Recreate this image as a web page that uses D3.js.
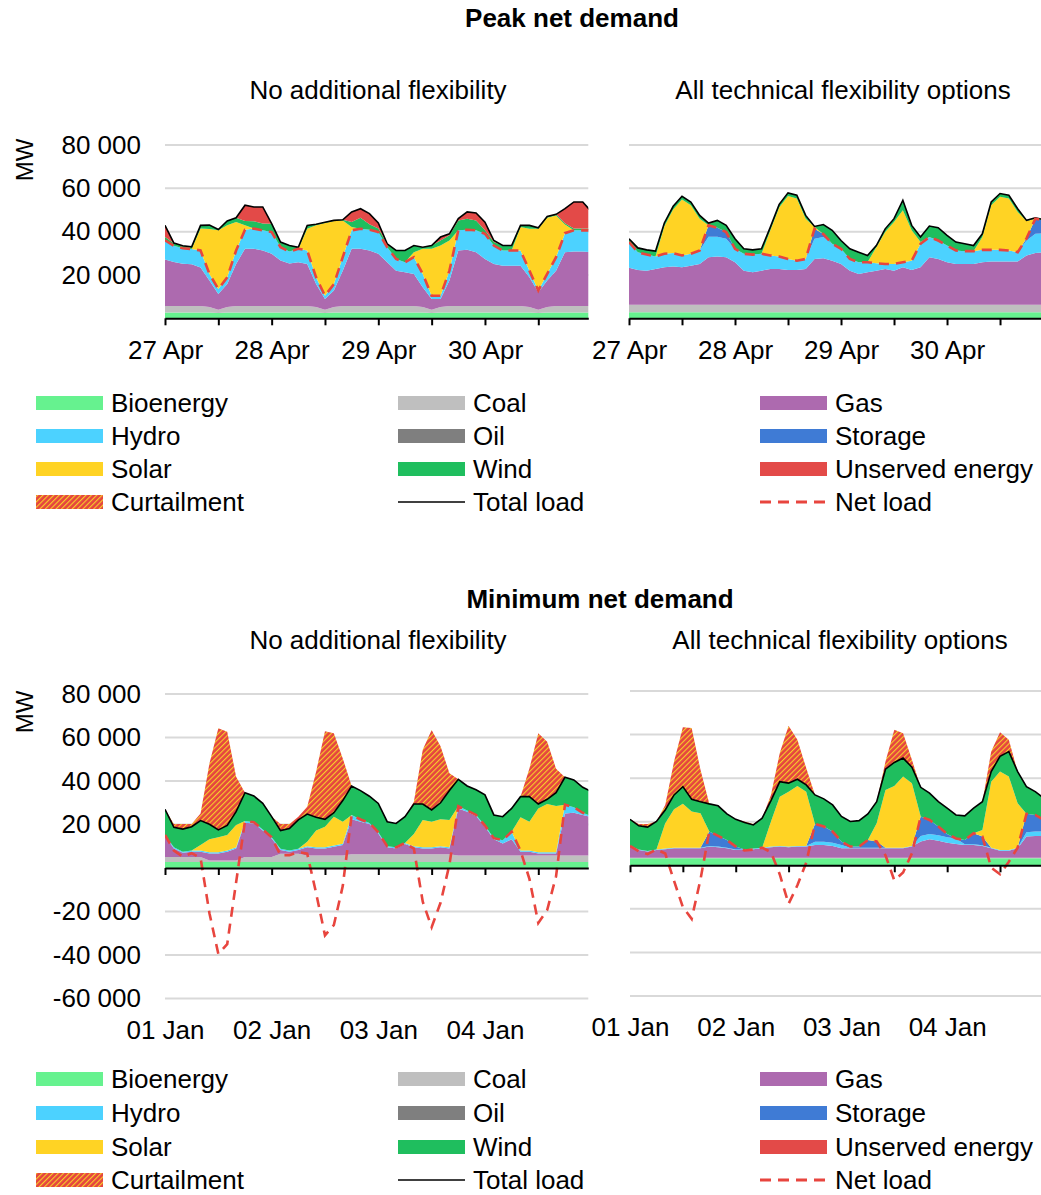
<!DOCTYPE html>
<html>
<head>
<meta charset="utf-8">
<script src="https://cdn.jsdelivr.net/npm/d3@7"></script>
<style>
  body { margin: 0; background: #fff; }
  text { font-family: "Liberation Sans", Arial, sans-serif; fill: #000; }
</style>
</head>
<body>
<svg id="chart" width="1041" height="1195"></svg>
<script>
// ---------------------------------------------------------------
// Hourly dispatch, sampled every 2 hours over four days (GW).
// ---------------------------------------------------------------
const hours = d3.range(0, 97, 2);          // hours since start of the window
const tickHours = [0, 12, 24, 36, 48, 60, 72, 84];
const dayHours = [0, 24, 48, 72];
const peakDays = ["27 Apr", "28 Apr", "29 Apr", "30 Apr"];
const minDays = ["01 Jan", "02 Jan", "03 Jan", "04 Jan"];

const peakGridTicks = [20000, 40000, 60000, 80000];
const minGridTicks = [-60000, -40000, -20000, 20000, 40000, 60000, 80000];

// --- Peak net demand, no additional flexibility ---
const peakBaseBio = [
  2.7,2.7,2.7,2.7,2.7,2.7,2.4,2.7,2.7,2.7,2.7,2.7,
  2.7,2.7,2.7,2.7,2.7,2.7,2.4,2.7,2.7,2.7,2.7,2.7,
  2.7,2.7,2.7,2.7,2.7,2.7,2.4,2.7,2.7,2.7,2.7,2.7,
  2.7,2.7,2.7,2.7,2.7,2.7,2.4,2.7,2.7,2.7,2.7,2.7, 2.7];
const peakBaseCoal = [
  3.0,3.0,3.0,3.0,3.0,2.5,1.6,2.5,3.0,3.0,3.0,3.0,
  3.0,3.0,3.0,3.0,3.0,2.5,1.6,2.5,3.0,3.0,3.0,3.0,
  3.0,3.0,3.0,3.0,3.0,2.5,1.6,2.5,3.0,3.0,3.0,3.0,
  3.0,3.0,3.0,3.0,3.0,2.5,1.6,2.5,3.0,3.0,3.0,3.0, 3.0];
const peakBaseGas = [
  21.5,20.3,19.5,19.3,17.8,12.2,7.2,10.6,19.4,26.4,26.4,25.6,
  24.1,21.0,19.6,20.2,19.4,10.6,4.9,7.6,16.3,26.4,26.4,25.6,
  24.1,20.2,16.3,15.6,14.8,9.1,4.9,3.7,11.7,25.6,25.9,24.8,
  21.7,19.4,18.6,18.6,18.6,13.7,8.0,12.2,16.3,24.8,25.1,25.1, 24.8];
const peakBaseHydro = [
  8.8,7.5,7.1,7.0,7.8,3.1,2.3,3.1,6.2,8.8,9.3,9.3,
  10.0,6.1,5.5,6.2,6.2,3.1,1.5,3.0,6.2,8.5,9.2,9.6,
  10.0,6.9,5.4,4.6,7.7,6.2,1.5,1.5,4.6,9.3,9.3,10.1,
  11.6,8.5,7.0,7.0,7.0,3.1,0.8,3.1,6.2,8.8,9.8,9.8, 10.1];
const peakBaseSolar = [
  0,0,0,0,10.1,20.7,27.1,24.0,13.1,2.0,0,0,
  0,0,0,0,10.0,24.0,33.6,29.1,17.0,1.5,0,0,
  0,0,0,0,2.3,11.6,21.7,23.2,13.9,0,0,0,
  0,0,0,0,10.8,19.3,28.5,25.9,19.3,4.0,0,0, 0];
const peakBaseWind = [
  1.5,1.2,1.2,1.0,1.5,1.8,0.4,2.0,2.0,2.0,3.4,3.2,
  3.9,2.4,2.8,0.7,1.6,0.5,0.3,0.3,0.3,2.3,5.1,2.5,
  1.7,1.6,3.9,5.4,3.1,0.7,1.5,2.3,2.4,4.6,5.1,4.6,
  1.6,1.6,2.3,2.3,0.8,1.6,0.5,0.6,0.5,0.6,0.9,0.9, 0.9];
const peakBaseUnserved = [
  5.4,0,0,0,0,0,0,0,0,7.3,6.6,7.6,
  0,0,0,0,0,0,0,0,0,4.7,4.2,4.9,
  2.5,0,0,0,0,0,0,1.6,0.7,0.8,3.1,3.4,
  3.8,0.7,0,0,0,0,0,0,0,6.7,12.2,12.2, 7.6];

// --- Peak net demand, all technical flexibility options ---
const peakFlexBio = [
  2.8,2.8,2.8,2.8,2.8,2.8,2.8,2.8,2.8,2.8,2.8,2.8,
  2.8,2.8,2.8,2.8,2.8,2.8,2.8,2.8,2.8,2.8,2.8,2.8,
  2.8,2.8,2.8,2.8,2.8,2.8,2.8,2.8,2.8,2.8,2.8,2.8,
  2.8,2.8,2.8,2.8,2.8,2.8,2.8,2.8,2.8,2.8,2.8,2.8, 2.8];
const peakFlexCoal = [
  3.4,3.4,3.4,3.4,3.4,3.4,3.4,3.4,3.4,3.4,3.4,3.4,
  3.4,3.4,3.4,3.4,3.4,3.4,3.4,3.4,3.4,3.4,3.4,3.4,
  3.4,3.4,3.4,3.4,3.4,3.4,3.4,3.4,3.4,3.4,3.4,3.4,
  3.4,3.4,3.4,3.4,3.4,3.4,3.4,3.4,3.4,3.4,3.4,3.4, 3.4];
const peakFlexGas = [
  17.1,16.1,15.8,16.6,17.4,17.7,17.4,18.1,18.9,22.0,22.3,22.0,
  19.7,15.8,15.1,15.8,16.6,16.6,16.1,16.1,16.6,21.2,21.5,20.4,
  18.9,15.8,14.3,15.1,15.8,16.6,15.8,17.4,16.1,17.4,22.0,21.2,
  19.7,18.9,18.9,18.9,19.7,20.0,20.0,20.0,20.0,22.8,23.9,24.3, 24.3];
const peakFlexHydro = [
  11.9,8.2,7.4,5.7,6.2,6.2,5.4,5.5,6.2,9.5,9.2,8.5,
  6.2,7.8,8.1,7.8,6.2,5.7,5.1,4.3,4.6,9.3,9.8,7.8,
  7.0,5.4,5.4,4.6,3.4,2.3,3.1,2.3,4.3,10.8,9.3,8.5,
  7.7,6.2,5.9,5.9,5.7,5.4,5.4,5.1,4.3,6.9,8.9,8.8, 9.3];
const peakFlexStorage = [
  0,0,0,0,0,0,0,0,0,5.2,4.1,3.1,
  0,0,0,0,0,0,0,0,0,4.6,1.4,0,
  0,0,0,0,0,0,0,0,0,0,0,0,
  0,0,0,0,0,0,0,0,0,1.0,7.0,5.7, 4.9];
const peakFlexSolar = [
  0,0,0,0,12.7,20.1,25.8,22.4,14.7,0,0,0,
  0,0,0,0,11.6,22.6,29.0,28.7,18.6,0.8,0,0,
  0,0,0,0,7.4,14.7,19.3,24.0,14.0,0.8,0,0,
  0,0,0,0,5.9,20.6,24.5,24.0,18.6,8.0,0,0, 0];
const peakFlexWind = [
  1.5,2.0,2.2,2.5,1.5,1.5,1.5,1.5,1.5,1.1,3.4,3.1,
  4.6,2.3,2.2,2.3,1.5,1.5,1.5,1.5,1.5,0.3,4.4,6.2,
  3.8,4.7,4.6,3.1,0.8,1.5,1.6,4.6,2.3,2.3,5.1,5.9,
  4.7,3.9,3.4,2.6,1.5,1.5,1.5,1.5,1.5,0.3,0.4,0.5, 0.5];

// --- Minimum net demand, no additional flexibility ---
const minBaseBio = [
  2.8,2.8,2.8,2.8,2.8,2.8,2.8,2.8,2.8,2.8,2.8,2.8,
  2.8,2.8,2.8,2.8,2.8,2.8,2.8,2.8,2.8,2.8,2.8,2.8,
  2.8,2.8,2.8,2.8,2.8,2.8,2.8,2.8,2.8,2.8,2.8,2.8,
  2.8,2.8,2.8,2.8,2.8,2.8,2.8,2.8,2.8,2.8,2.8,2.8, 2.8];
const minBaseCoal = [
  2.3,2.3,2.3,2.3,2.3,0.6,0.6,0.6,0.6,2.3,2.3,2.3,
  2.3,3.8,3.8,3.8,3.0,3.0,3.0,3.0,3.0,3.5,3.5,3.5,
  3.5,3.5,3.5,3.5,3.5,3.5,3.5,3.5,3.5,3.0,3.0,3.0,
  3.0,3.0,3.0,3.0,3.0,3.0,3.0,3.0,3.0,3.0,3.0,3.0, 3.0];
const minBaseGas = [
  9.6,3.9,1.9,2.4,2.4,3.3,3.3,4.1,5.6,15.7,15.4,12.1,
  8.5,1.7,0.9,1.7,3.7,3.2,3.2,4.0,4.8,16.1,15.0,13.9,
  9.6,3.2,2.7,4.7,3.2,2.7,2.7,3.2,2.7,21.6,20.1,18.1,
  13.2,7.4,5.5,7.4,1.7,1.7,0.9,0.9,0.9,19.3,19.6,18.6, 17.5];
const minBaseHydro = [
  0.5,0.5,0.5,0.5,0.5,0.5,0.5,0.5,0.5,0.8,0.5,0.5,
  0.5,0.5,0.5,0.5,0.5,0.5,0.5,0.5,0.5,2.0,1.0,0.5,
  0.5,0.5,0.5,0.5,0.5,0.5,0.5,0.5,0.5,1.0,0.5,0.5,
  0.5,0.5,1.5,3.5,0.5,0.5,0.5,0.5,0.5,4.0,2.5,1.0, 0.5];
const minBaseSolar = [
  0,0,0,0,2.6,6.0,6.9,7.2,10.3,0,0,0,
  0,0,0,0,2.1,7.7,9.5,13.3,10.2,0,0,0,
  0,0,0,0,5.6,12.6,11.8,12.4,12.6,0,0,0,
  0,0,0,0,15.3,13.3,20.2,22.2,21.3,0,0,0, 0];
const minBaseWind = [
  11.8,9.2,10.4,11.0,11.2,6.9,3.4,4.4,6.1,13.0,12.1,12.0,
  9.5,8.4,10.1,13.3,12.7,6.1,3.4,1.8,9.7,13.3,13.3,12.3,
  13.3,11.3,11.0,12.1,13.8,7.3,5.4,7.6,13.5,12.4,11.3,11.6,
  14.1,10.7,10.8,10.7,9.5,11.5,2.0,2.2,6.1,12.6,12.6,11.7, 11.3];
const minBaseCurtail = [
  0,1.5,2.3,1.2,3.3,28.0,46.7,43.0,16.1,0,0,0,
  0,3.0,2.1,1.5,3.4,21.0,40.5,36.5,19.4,0,0,0,
  0,0,0,0,1.1,25.0,36.7,26.0,8.0,0,0,0,
  0,0,0,0,0,13.0,32.5,26.5,11.0,0,0,0, 0];

// --- Minimum net demand, all technical flexibility options ---
const minFlexBio = [
  3.2,3.2,3.2,3.2,3.2,3.2,3.2,3.2,3.2,3.2,3.2,3.2,
  3.2,3.2,3.2,3.2,3.2,3.2,3.2,3.2,3.2,3.2,3.2,3.2,
  3.2,3.2,3.2,3.2,3.2,3.2,3.2,3.2,3.2,3.2,3.2,3.2,
  3.2,3.2,3.2,3.2,3.2,3.2,3.2,3.2,3.2,3.2,3.2,3.2, 3.2];
const minFlexCoal = [
  0.3,0.3,0.3,0.3,0.3,0.3,0.3,0.3,0.3,0.3,0.3,0.3,
  0.3,0.3,0.3,0.3,0.3,0.3,0.3,0.3,0.3,0.3,0.3,0.3,
  0.3,0.3,0.3,0.3,0.3,0.3,0.3,0.3,0.3,0.3,0.3,0.3,
  0.3,0.3,0.3,0.3,0.3,0.3,0.3,0.3,0.3,0.3,0.3,0.3, 0.3];
const minFlexGas = [
  5.1,3.5,2.8,3.5,3.9,4.3,4.3,4.3,4.3,5.1,4.8,4.3,
  3.5,3.5,3.9,4.3,4.8,5.1,4.8,5.1,5.1,5.8,5.8,5.4,
  4.3,4.3,4.3,4.3,4.3,4.3,4.3,4.3,5.1,7.4,8.4,7.8,
  6.9,6.3,5.8,5.8,5.4,4.3,3.2,3.2,4.3,9.7,10.0,10.0, 9.7];
const minFlexHydro = [
  0.3,0.3,0.3,0.3,0.3,0.3,0.3,0.3,0.3,0.3,0.3,0.3,
  0.3,0.3,0.3,0.3,0.3,0.3,0.3,0.3,0.3,1.5,1.5,1.5,
  1.5,0.3,0.3,0.3,0.3,0.3,0.3,0.3,0.3,2.5,2.5,2.5,
  2.5,2.5,0.3,0.3,0.3,0.3,0.3,0.3,0.3,2.0,2.0,2.0, 2.0];
const minFlexStorage = [
  0,0,0,0,0,0,0,0,0,6.6,4.9,3.5,
  1.3,0,0,0,0,0,0,0,0,8.2,7.0,5.1,
  1.6,0.5,0.5,3.5,2.8,0,0,0,0,9.0,6.4,4.0,
  1.5,0,2.0,5.1,4.0,0,0,0,0,8.4,7.6,5.3, 4.1];
const minFlexSolar = [
  0,0,0,0,11.6,17.6,20.1,16.6,15.8,0,0,0,
  0,0,0,0,11.5,22.6,25.2,27.5,24.9,0,0,0,
  0,0,0,0,8.4,26.5,28.3,32.6,28.8,0,0,0,
  0,0,0,0,3.0,30.3,36.0,33.7,20.4,0,0,0, 0];
const minFlexWind = [
  12.2,10.8,10.9,12.8,6.1,6.6,7.9,5.6,5.3,12.7,13.8,12.0,
  12.5,12.3,10.8,13.5,9.6,6.9,3.9,3.1,3.1,13.3,12.7,12.2,
  11.5,11.5,11.9,12.0,9.9,9.5,10.8,8.5,7.3,13.4,12.3,11.4,
  11.8,10.8,11.1,11.5,13.0,4.6,7.0,11.5,14.5,12.5,10.7,10.0, 9.9];
const minFlexCurtail = [
  0,0.9,1.5,0,2.3,15.3,27.3,32.7,14.6,0,0,0,
  0,0.5,0.5,0,2.6,13.1,26.3,18.1,7.7,0,0,0,
  0,0,0,0,0,3.5,15.0,11.4,3.4,0,0,0,
  0,0,0,0,0,9.2,11.1,5.4,0,0,0,0, 0];

// Stack order, bottom to top; oil produced nothing in these windows.
const stackKeys = ["bio", "coal", "oil", "gas", "hydro", "storage", "solar", "wind", "unserved", "curtail"];
const colors = {
  bio: "#66f28f", coal: "#bfbfbf", oil: "#7f7f7f", gas: "#ad6aaf",
  hydro: "#4cd2ff", storage: "#3f7bd5", solar: "#ffd324", wind: "#1fbe5e",
  unserved: "#e34a48", curtail: "url(#curtailHatch)"
};
const legendItems = [
  ["Bioenergy", "bio"], ["Coal", "coal"], ["Gas", "gas"],
  ["Hydro", "hydro"], ["Oil", "oil"], ["Storage", "storage"],
  ["Solar", "solar"], ["Wind", "wind"], ["Unserved energy", "unserved"],
  ["Curtailment", "curtail"], ["Total load", "total"], ["Net load", "net"]
];

const svg = d3.select("#chart");
svg.append("rect").attr("width", 1041).attr("height", 1195).attr("fill", "#fff");

// red fill crossed by thin yellow diagonal stripes
const defs = svg.append("defs");
const hatch = defs.append("pattern")
  .attr("id", "curtailHatch").attr("patternUnits", "userSpaceOnUse")
  .attr("width", 3.8).attr("height", 3.8)
  .attr("patternTransform", "rotate(45)");
hatch.append("rect").attr("width", 3.8).attr("height", 3.8).attr("fill", "#e5453f");
hatch.append("rect").attr("width", 1.1).attr("height", 3.8).attr("fill", "#f8cf2a");

const span = 95.25;   // hours shown across each panel
const fmtMW = v => (v < 0 ? "-" : "") + d3.format(",")(Math.abs(v)).replace(/,/g, " ");

function drawPanel(cfg, id) {
  const x = d3.scaleLinear().domain([0, span]).range([cfg.x0, cfg.x0 + span * cfg.pxh]);
  const y = d3.scaleLinear().domain(cfg.yDomain).range(cfg.yRange);
  const [xa, xb] = x.range();

  const rows = hours.map((h, i) => {
    const r = { h };
    stackKeys.forEach(k => { r[k] = ((cfg.series[k] || [])[i] || 0) * 1000; });
    r.total = r.bio + r.coal + r.oil + r.gas + r.hydro + r.storage + r.solar + r.wind + r.unserved;
    r.net = r.bio + r.coal + r.oil + r.gas + r.hydro + r.storage - r.curtail;
    return r;
  });

  const g = svg.append("g");

  // horizontal gridlines
  g.append("g").selectAll("line").data(cfg.grid).join("line")
    .attr("x1", xa).attr("x2", xb)
    .attr("y1", d => y(d)).attr("y2", d => y(d))
    .attr("stroke", "#d9d9d9").attr("stroke-width", 2);

  defs.append("clipPath").attr("id", "clip" + id)
    .append("rect").attr("x", xa).attr("y", 0).attr("width", xb - xa).attr("height", 1195);

  const plot = g.append("g").attr("clip-path", `url(#clip${id})`);
  const layers = d3.stack().keys(stackKeys)(rows);
  const area = d3.area().x(d => x(d.data.h)).y0(d => y(d[0])).y1(d => y(d[1]));
  plot.selectAll("path.layer").data(layers).join("path")
    .attr("class", "layer")
    .attr("fill", d => colors[d.key])
    .attr("d", area);

  plot.append("path").datum(rows)
    .attr("fill", "none").attr("stroke", "#000").attr("stroke-width", 1.6)
    .attr("d", d3.line().x(d => x(d.h)).y(d => y(d.total)));

  // x axis at zero with a tick every 12 hours
  const axis = g.append("g").attr("transform", `translate(0,${y(0)})`)
    .call(d3.axisBottom(x).tickValues(tickHours).tickSize(7).tickSizeOuter(0).tickFormat(""));
  axis.selectAll("path,line").attr("stroke", "#000").attr("stroke-width", 2);

  plot.append("path").datum(rows)
    .attr("fill", "none").attr("stroke", "#e8453e").attr("stroke-width", 2.6)
    .attr("stroke-dasharray", "10,7")
    .attr("d", d3.line().x(d => x(d.h)).y(d => y(d.net)));

  // day labels
  const lab = g.append("g").attr("transform", `translate(0,${cfg.labelY})`)
    .call(d3.axisBottom(x).tickValues(dayHours).tickSize(0).tickPadding(0)
      .tickFormat((d, i) => cfg.days[i]));
  lab.select(".domain").remove();
  lab.selectAll("text").attr("font-size", 26).attr("dy", "0.35em").attr("y", 0)
    .attr("font-family", '"Liberation Sans", Arial, sans-serif').attr("fill", "#000");

  if (cfg.yLabels) {
    const ya = g.append("g").attr("transform", "translate(141,0)")
      .call(d3.axisLeft(y).tickValues(cfg.yLabels).tickSize(0).tickPadding(0).tickFormat(fmtMW));
    ya.select(".domain").remove();
    ya.selectAll("text").attr("font-size", 26)
      .attr("font-family", '"Liberation Sans", Arial, sans-serif').attr("fill", "#000");
  }
}

drawPanel({
  x0: 165, pxh: 4.444, yDomain: [0, 80000], yRange: [318.3, 145],
  grid: peakGridTicks, yLabels: peakGridTicks, labelY: 350, days: peakDays,
  series: { bio: peakBaseBio, coal: peakBaseCoal, gas: peakBaseGas, hydro: peakBaseHydro,
            solar: peakBaseSolar, wind: peakBaseWind, unserved: peakBaseUnserved }
}, "PB");
drawPanel({
  x0: 629, pxh: 4.417, yDomain: [0, 80000], yRange: [318.3, 145],
  grid: peakGridTicks, yLabels: null, labelY: 350, days: peakDays,
  series: { bio: peakFlexBio, coal: peakFlexCoal, gas: peakFlexGas, hydro: peakFlexHydro,
            storage: peakFlexStorage, solar: peakFlexSolar, wind: peakFlexWind }
}, "PF");
drawPanel({
  x0: 165, pxh: 4.444, yDomain: [-60000, 80000], yRange: [998.5, 694],
  grid: minGridTicks, yLabels: minGridTicks, labelY: 1030, days: minDays,
  series: { bio: minBaseBio, coal: minBaseCoal, gas: minBaseGas, hydro: minBaseHydro,
            solar: minBaseSolar, wind: minBaseWind, curtail: minBaseCurtail }
}, "MB");
drawPanel({
  x0: 630, pxh: 4.405, yDomain: [-60000, 80000], yRange: [996, 691],
  grid: minGridTicks, yLabels: null, labelY: 1027, days: minDays,
  series: { bio: minFlexBio, coal: minFlexCoal, gas: minFlexGas, hydro: minFlexHydro,
            storage: minFlexStorage, solar: minFlexSolar, wind: minFlexWind, curtail: minFlexCurtail }
}, "MF");

// titles
const titles = [
  { t: "Peak net demand", x: 572, y: 18, bold: true },
  { t: "No additional flexibility", x: 378, y: 90 },
  { t: "All technical flexibility options", x: 843, y: 90 },
  { t: "Minimum net demand", x: 600, y: 599, bold: true },
  { t: "No additional flexibility", x: 378, y: 640 },
  { t: "All technical flexibility options", x: 840, y: 640 }
];
svg.append("g").selectAll("text").data(titles).join("text")
  .attr("x", d => d.x).attr("y", d => d.y).attr("dy", "0.35em")
  .attr("text-anchor", "middle").attr("font-size", 26)
  .attr("font-weight", d => d.bold ? "bold" : "normal")
  .text(d => d.t);

[160, 712].forEach(cy => {
  svg.append("text").attr("transform", `translate(25,${cy}) rotate(-90)`)
    .attr("text-anchor", "middle").attr("dy", "0.35em").attr("font-size", 24).text("MW");
});

// legends
function drawLegend(rowsY) {
  const colX = [36, 398, 760];
  const g = svg.append("g");
  legendItems.forEach(([label, key], i) => {
    const cx = colX[i % 3], cy = rowsY[Math.floor(i / 3)];
    if (key === "total") {
      g.append("line").attr("x1", cx).attr("x2", cx + 67).attr("y1", cy).attr("y2", cy)
        .attr("stroke", "#000").attr("stroke-width", 1.6);
    } else if (key === "net") {
      g.append("line").attr("x1", cx).attr("x2", cx + 67).attr("y1", cy).attr("y2", cy)
        .attr("stroke", "#e8453e").attr("stroke-width", 3).attr("stroke-dasharray", "11,7");
    } else {
      g.append("rect").attr("x", cx).attr("y", cy - 7).attr("width", 67).attr("height", 14)
        .attr("fill", colors[key]);
    }
    g.append("text").attr("x", cx + 75).attr("y", cy).attr("dy", "0.35em")
      .attr("font-size", 26).text(label);
  });
}
drawLegend([403, 436, 469, 502]);
drawLegend([1079, 1113, 1147, 1180]);
</script>
</body>
</html>
